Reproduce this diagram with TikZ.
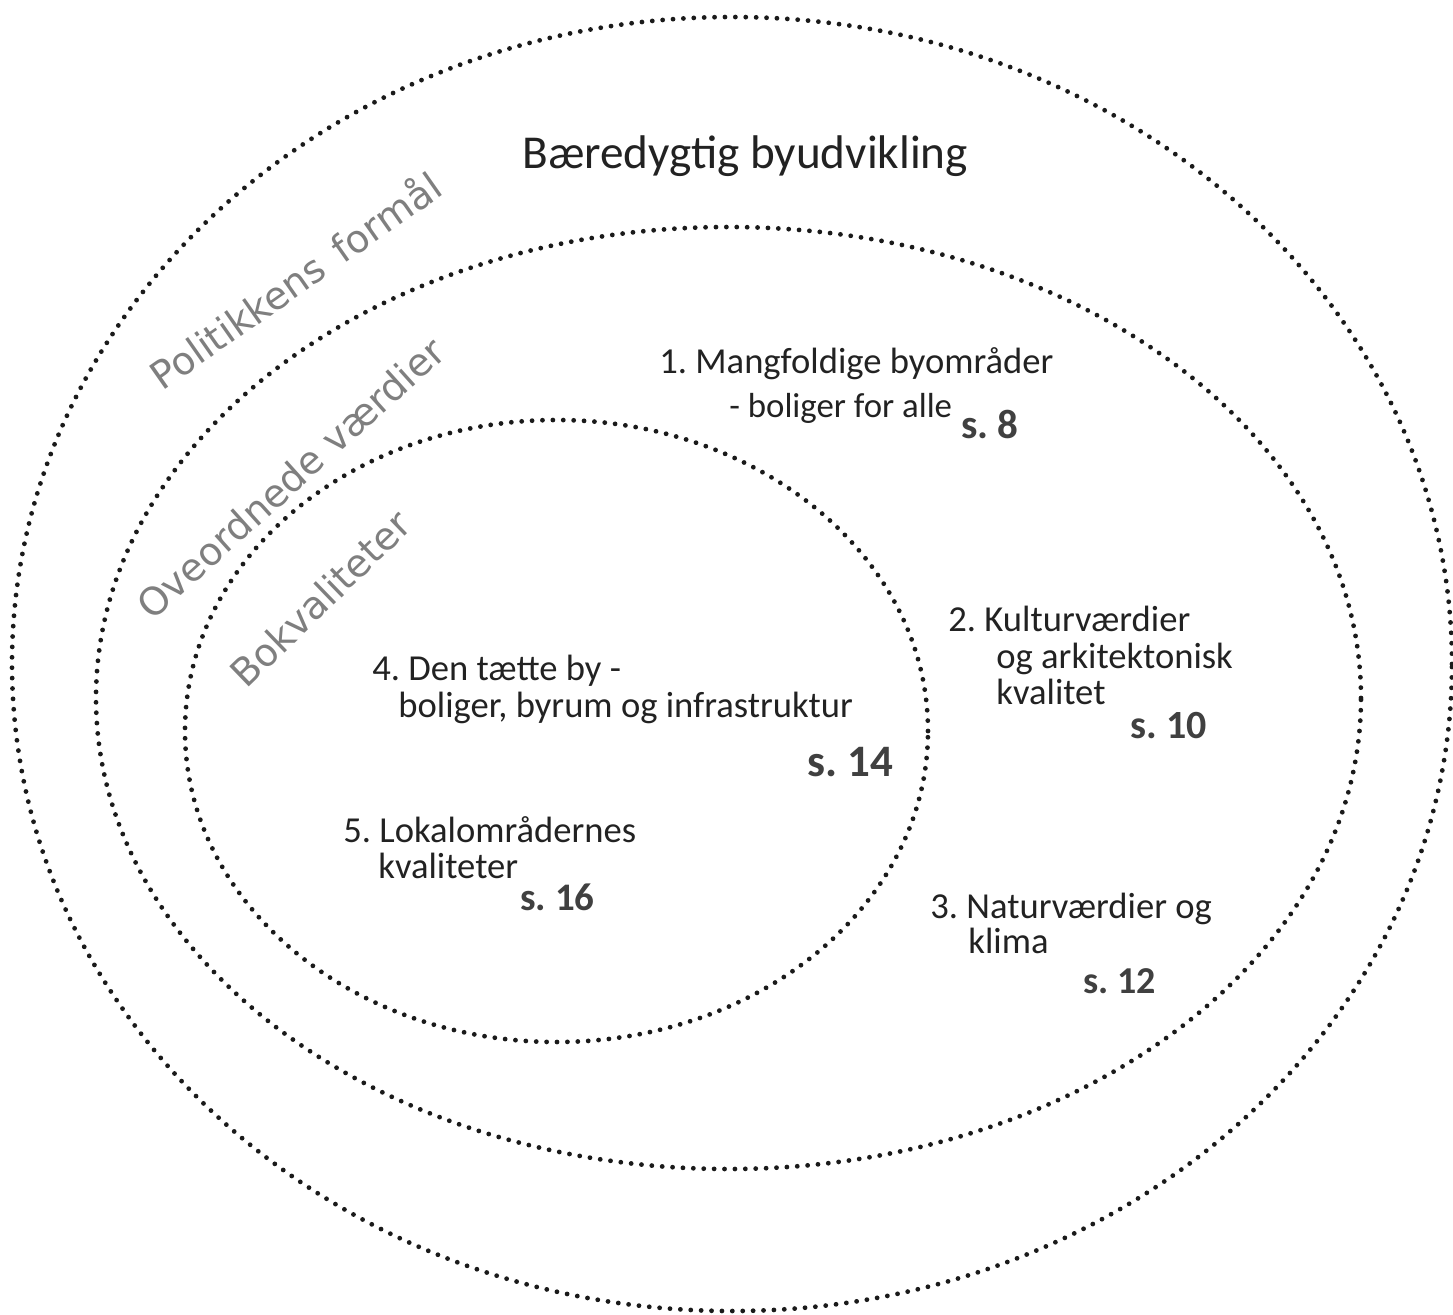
\documentclass[tikz,border=0pt]{standalone}
\usepackage{fontspec}
\setmainfont{Carlito}
\newfontfamily\labelfont{DejaVu Sans}
\usetikzlibrary{positioning}
\definecolor{dotink}{HTML}{1A1A1A}
\definecolor{ringtext}{HTML}{7F7F7F}
\definecolor{pagetext}{HTML}{222222}
\definecolor{pagenum}{HTML}{404040}
\frenchspacing

\begin{document}
\begin{tikzpicture}[x=0.5pt, y=-0.5pt,
    ring/.style={draw=dotink, line width=2.4pt, line cap=round,
                 dash pattern=on 0pt off 5.2pt},
    ringlabel/.style={anchor=base west, inner sep=0pt, text=ringtext,
                      font=\labelfont\fontsize{19.2}{22}\selectfont},
    item/.style={anchor=base west, inner sep=0pt, text=pagetext,
                 font=\fontsize{18.3}{22}\selectfont},
    pageref/.style={anchor=base west, inner sep=0pt, text=pagenum,
                    font=\bfseries\fontsize{21}{24}\selectfont}
  ]
    \useasboundingbox (0,0) rectangle (1453,1314);

    % Rings
    \draw[ring] (732,664) ellipse [x radius=360pt, y radius=323.5pt];
    \draw[ring] (728.5,698) ellipse [x radius=316.25pt, y radius=235.5pt];
    \draw[ring] (556.5,731) ellipse [x radius=185.75pt, y radius=155.5pt];

    % Ring labels
    \node[item, font=\fontsize{23.6}{28}\selectfont] (title) at (522,168) {Bæredygtig byudvikling};
    \node[ringlabel, rotate=35] (formaal) at (162,392) {Politikkens\hspace{0.15em} formål};
    \node[ringlabel, rotate=42] (vaerdier) at (152,622) {Oveordnede værdier};
    \node[ringlabel, rotate=44] (bokval) at (246,690) {Bokvaliteter};

    % Themes
    \node[item] (t1a) at (659,373) {1. Mangfoldige byområder};
    \node[item, font=\fontsize{17.4}{22}\selectfont] (t1b) at (729,417) {- boliger for alle};
    \node[pageref, font=\bfseries\fontsize{20.5}{24}\selectfont] (p1) at (961,438) {s. 8};

    \node[item] (t2a) at (948,631) {2. Kulturværdier};
    \node[item] (t2b) at (996,668) {og arkitektonisk};
    \node[item] (t2c) at (996,704) {kvalitet};
    \node[pageref, font=\bfseries\fontsize{20}{24}\selectfont] (p2) at (1130,738) {s. 10};

    \node[item] (t3a) at (930,918) {3. Naturværdier og};
    \node[item] (t3b) at (968,953) {klima};
    \node[pageref, font=\bfseries\fontsize{19}{24}\selectfont] (p3) at (1083,993) {s. 12};

    \node[item] (t4a) at (372,680) {4. Den tætte by -};
    \node[item] (t4b) at (398,717) {boliger, byrum og infrastruktur};
    \node[pageref, font=\bfseries\fontsize{22.5}{24}\selectfont] (p4) at (807,776) {s. 14};

    \node[item] (t5a) at (343,842) {5. Lokalområdernes};
    \node[item] (t5b) at (378,878) {kvaliteter};
    \node[pageref, font=\bfseries\fontsize{19.5}{24}\selectfont] (p5) at (520,910) {s. 16};
\end{tikzpicture}
\end{document}
